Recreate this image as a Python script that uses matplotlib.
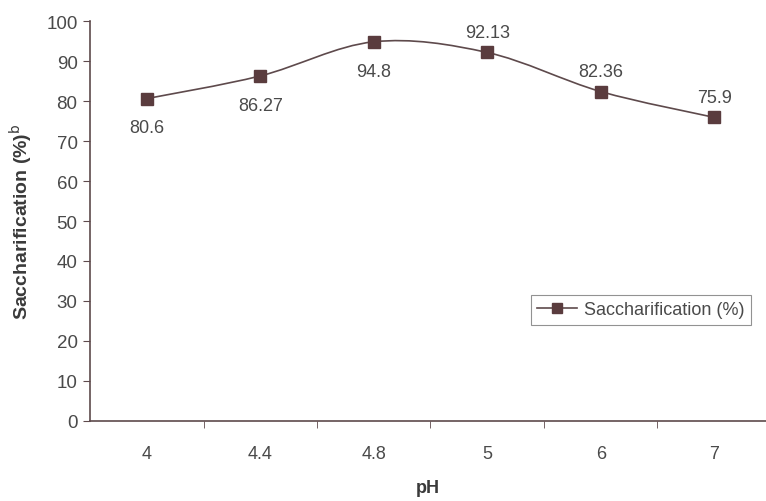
import matplotlib
matplotlib.use("Agg")
import matplotlib.pyplot as plt
import numpy as np
from matplotlib.path import Path
from matplotlib.patches import PathPatch
from matplotlib.lines import Line2D

plt.rcParams['font.family'] = ['Liberation Sans', 'DejaVu Sans']

categories = ["4", "4.4", "4.8", "5", "6", "7"]
values = [80.6, 86.27, 94.8, 92.13, 82.36, 75.9]
label_pos = ["below", "below", "below", "above", "above", "above"]
series_name = "Saccharification (%)"

line_color = "#5e4a4c"
marker_color = "#5a3c3e"
text_color = "#4a4a4a"

fig = plt.figure(figsize=(7.66, 5.02), dpi=100)
ax = fig.add_axes([90/766, 1-422/502, 681/766, 400/502])

x = np.arange(len(categories))
y = np.array(values)

# smooth line (Catmull-Rom -> cubic Bezier) through data points
verts = [(x[0], y[0])]
codes = [Path.MOVETO]
n = len(x)
t = 1/6
for i in range(n-1):
    p0 = np.array([x[max(i-1, 0)], y[max(i-1, 0)]])
    p1 = np.array([x[i], y[i]])
    p2 = np.array([x[i+1], y[i+1]])
    p3 = np.array([x[min(i+2, n-1)], y[min(i+2, n-1)]])
    c1 = p1 + (p2 - p0) * t
    c2 = p2 - (p3 - p1) * t
    verts += [tuple(c1), tuple(c2), tuple(p2)]
    codes += [Path.CURVE4] * 3
ax.add_patch(PathPatch(Path(verts, codes), facecolor="none", edgecolor=line_color, lw=1.2))
ax.plot(x, y, linestyle="none", marker="s", markersize=8, color=marker_color)

for xi, yi, pos in zip(x, y, label_pos):
    txt = f"{yi:g}"
    if pos == "below":
        ax.annotate(txt, (xi, yi), xytext=(0, -15), textcoords="offset points",
                    ha="center", va="top", fontsize=13, color=text_color)
    else:
        ax.annotate(txt, (xi, yi), xytext=(0, 8), textcoords="offset points",
                    ha="center", va="bottom", fontsize=13, color=text_color)

ax.set_xlim(-0.5, n - 0.5)
ax.set_ylim(0, 100)
ax.set_yticks(np.arange(0, 101, 10))
ax.set_xticks(x)
ax.set_xticklabels(categories)
ax.set_xticks(np.arange(0.5, n - 0.5, 1), minor=True)
ax.tick_params(axis="x", which="major", length=0, pad=17, labelsize=13, labelcolor=text_color)
ax.tick_params(axis="x", which="minor", length=5, direction="out", color=line_color)
ax.tick_params(axis="y", length=5, direction="out", color=line_color, labelsize=13.5, labelcolor=text_color, pad=4)

for s in ["top", "right"]:
    ax.spines[s].set_visible(False)
for s in ["left", "bottom"]:
    ax.spines[s].set_color(line_color)
    ax.spines[s].set_linewidth(1.2)

ax.set_ylabel("Saccharification (%)$^{\\mathrm{b}}$", fontsize=14, fontweight="bold", color="#3a3a3a", labelpad=8)
ax.set_xlabel("pH", fontsize=13, fontweight="bold", color="#3a3a3a", labelpad=8)
ax.xaxis.set_label_coords(338/681, -58/400)

handle = Line2D([], [], color=line_color, marker="s", markersize=7, markerfacecolor=marker_color,
                markeredgecolor=marker_color, lw=1.2)
leg = ax.legend([handle], [series_name], loc="upper left",
                bbox_to_anchor=((522-90)/681, (422-287)/400),
                fontsize=13, frameon=True, fancybox=False, handlelength=2.2, handletextpad=0.4,
                borderpad=0.35, labelcolor=text_color)
leg.get_frame().set_edgecolor("#777777")
leg.get_frame().set_linewidth(0.8)

fig.savefig("out.png", dpi=100)
